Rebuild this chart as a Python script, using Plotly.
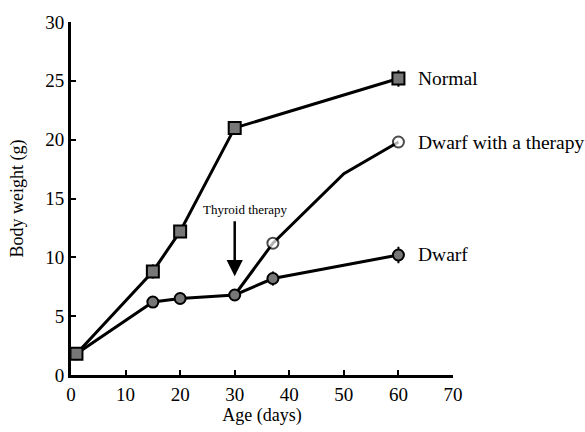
import plotly.graph_objects as go

normal_x = [1, 15, 20, 30, 60]
normal_y = [1.8, 8.8, 12.2, 21.0, 25.2]
normal_err = [0.3, 0.6, 0.4, 0.5, 0.7]

dwarf_x = [1, 15, 20, 30, 37, 60]
dwarf_y = [1.8, 6.2, 6.5, 6.8, 8.2, 10.2]
dwarf_err = [0.2, 0.5, 0.3, 0.3, 0.6, 0.7]

therapy_x = [30, 37, 50, 60]
therapy_y = [6.8, 11.2, 17.1, 19.8]
therapy_marker_size = [0, 11, 0, 11]

labels = ["Normal", "Dwarf with a therapy", "Dwarf"]
label_y = [25.2, 19.8, 10.2]

font_family = "Liberation Serif, Times New Roman, serif"

fig = go.Figure()

fig.add_trace(go.Scatter(
    x=therapy_x, y=therapy_y, mode="lines+markers",
    line=dict(color="black", width=3),
    marker=dict(symbol="circle", size=therapy_marker_size, color="white",
                line=dict(color="black", width=2)),
    showlegend=False,
))
fig.add_trace(go.Scatter(
    x=dwarf_x, y=dwarf_y, mode="lines+markers",
    line=dict(color="black", width=3),
    error_y=dict(type="data", array=dwarf_err, color="black", thickness=2, width=0),
    marker=dict(symbol="circle", size=11, color="#777777",
                line=dict(color="black", width=2)),
    showlegend=False,
))
fig.add_trace(go.Scatter(
    x=normal_x, y=normal_y, mode="lines+markers",
    line=dict(color="black", width=3),
    error_y=dict(type="data", array=normal_err, color="black", thickness=2, width=0),
    marker=dict(symbol="square", size=12, color="#777777",
                line=dict(color="black", width=2)),
    showlegend=False,
))

for t, yy in zip(labels, label_y):
    fig.add_annotation(x=63.3, y=yy, text=t, showarrow=False, xanchor="left",
                       yanchor="middle", font=dict(family=font_family, size=19.5, color="black"))

fig.add_annotation(x=30, y=8.4, ax=30, ay=13.2, axref="x", ayref="y", text="",
                   showarrow=True, arrowhead=2, arrowsize=1.3, arrowwidth=2.5,
                   arrowcolor="black")
fig.add_annotation(x=32, y=14.1, text="Thyroid therapy", showarrow=False,
                   font=dict(family=font_family, size=13, color="black"))

axis_common = dict(
    showline=True, linecolor="black", linewidth=3, ticks="inside",
    ticklen=5, tickwidth=1.5, tickcolor="black", showgrid=False, zeroline=False,
    tickfont=dict(family=font_family, size=19, color="black"),
    mirror=False,
)

fig.update_xaxes(range=[0, 70], dtick=10, tick0=0,
                 title=dict(text="Age (days)", font=dict(family=font_family, size=18, color="black"),
                            standoff=1),
                 **axis_common)
fig.update_yaxes(range=[0, 30], dtick=5, tick0=0,
                 title=dict(text="Body weight (g)", font=dict(family=font_family, size=18, color="black"),
                            standoff=17),
                 **axis_common)

fig.update_layout(
    width=585, height=432,
    margin=dict(l=71, r=132, t=17, b=57),
    plot_bgcolor="white", paper_bgcolor="white",
)

fig.write_html("out.html")
